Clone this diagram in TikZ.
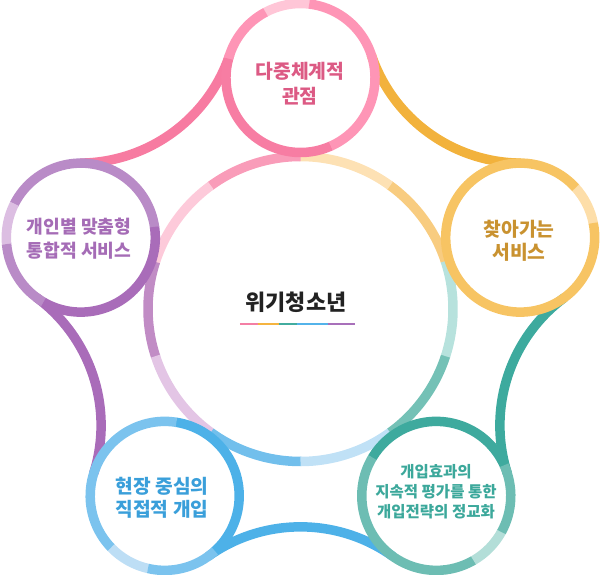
\documentclass[tikz,border=0pt]{standalone}
\usepackage{fontspec}
\newfontfamily\kr{Noto Sans CJK KR}
\definecolor{bOr}{HTML}{F8CC80}
\definecolor{bOrL}{HTML}{FDE1B4}
\definecolor{bPk}{HTML}{F99CB9}
\definecolor{bPkL}{HTML}{FDCADA}
\definecolor{bPu}{HTML}{C18CC5}
\definecolor{bPuL}{HTML}{E3C5E5}
\definecolor{bBl}{HTML}{72BFEC}
\definecolor{bBlL}{HTML}{C0E1F6}
\definecolor{bTe}{HTML}{74C1B6}
\definecolor{bTeL}{HTML}{B7E2DD}
% top circle
\definecolor{tL}{HTML}{FFC6D7}
\definecolor{tM}{HTML}{FE95B6}
\definecolor{tD}{HTML}{F77DA3}
% right circle
\definecolor{rL}{HTML}{FDDEA9}
\definecolor{rM}{HTML}{F7C463}
% bottom right
\definecolor{brD}{HTML}{3EAA9E}
\definecolor{brM}{HTML}{6DBDB3}
\definecolor{brL}{HTML}{B3DED8}
% bottom left
\definecolor{blD}{HTML}{4DB1E8}
\definecolor{blM}{HTML}{7BC3EE}
\definecolor{blL}{HTML}{BDDEF5}
% left
\definecolor{lM}{HTML}{B98BC7}
\definecolor{lL}{HTML}{DCBEE2}
\definecolor{lD}{HTML}{A96CB9}
% connectors
\definecolor{cPk}{HTML}{F77BA1}
\definecolor{cOr}{HTML}{F2B23C}
\definecolor{cTe}{HTML}{3DAA9E}
\definecolor{cBl}{HTML}{4DB1E8}
\definecolor{cPu}{HTML}{A96CB9}
% text
\definecolor{xTop}{HTML}{DC5A84}
\definecolor{xR}{HTML}{C99230}
\definecolor{xL}{HTML}{A56CB6}
\definecolor{xBL}{HTML}{3A9FDA}
\definecolor{xBR}{HTML}{3CA89B}
\definecolor{xC}{HTML}{222222}
% underline
\definecolor{uPk}{HTML}{F47FA5}
\definecolor{uOr}{HTML}{F5B440}
\definecolor{uTe}{HTML}{42AC9F}
\definecolor{uBl}{HTML}{53B3EA}
\definecolor{uPu}{HTML}{A870BA}
\newcommand\arcseg[5]{\draw[ring,#1] ([shift={(#3:#5)}]#2) arc[start angle=#3, end angle=#4, radius=#5];}
\begin{document}
\begin{tikzpicture}[x=1pt,y=1pt,
  ring/.style={line width=9.5pt, line cap=butt},
  label/.style={align=center, inner sep=0pt, font=\kr\bfseries}]
\useasboundingbox (-300.5,-266) rectangle (299.5,309);
\def\rs{74.5}
\def\rb{152.5}
\def\rf{159}
\coordinate (O) at (0,0);
\coordinate (T) at (90:231);
\coordinate (L) at (162:231);
\coordinate (BL) at (234:231);
\coordinate (BR) at (306:231);
\coordinate (R) at (18:231);
\coordinate (F1) at (126:376.84);
\coordinate (F2) at (198:376.84);
\coordinate (F3) at (270:376.84);
\coordinate (F4) at (342:376.84);
\coordinate (F5) at (54:376.84);
% big circle
\arcseg{bOr}{O}{18}{54.3}{\rb}
\arcseg{bOrL}{O}{54}{90.3}{\rb}
\arcseg{bPk}{O}{90}{126.3}{\rb}
\arcseg{bPkL}{O}{126}{162.3}{\rb}
\arcseg{bPu}{O}{162}{198.3}{\rb}
\arcseg{bPuL}{O}{198}{234.3}{\rb}
\arcseg{bBl}{O}{234}{270.3}{\rb}
\arcseg{bBlL}{O}{270}{306.3}{\rb}
\arcseg{bTe}{O}{306}{342.3}{\rb}
\arcseg{bTeL}{O}{342}{378.3}{\rb}
% connectors
\arcseg{cPk}{F1}{270.44}{341.56}{\rf}
\arcseg{cPu}{F2}{342.44}{413.56}{\rf}
\arcseg{cBl}{F3}{54.44}{125.56}{\rf}
\arcseg{cTe}{F4}{126.44}{197.56}{\rf}
\arcseg{cOr}{F5}{198.44}{269.56}{\rf}
% top circle
\arcseg{tL}{T}{83}{118.3}{\rs}
\arcseg{tM}{T}{118}{165.3}{\rs}
\arcseg{tD}{T}{165}{294.3}{\rs}
\arcseg{tM}{T}{294}{443.3}{\rs}
% right circle
\arcseg{rL}{R}{11}{42.3}{\rs}
\arcseg{rM}{R}{42}{371.3}{\rs}
% bottom right
\arcseg{brD}{BR}{24}{149.3}{\rs}
\arcseg{brM}{BR}{149}{300.3}{\rs}
\arcseg{brL}{BR}{300}{331.3}{\rs}
\arcseg{brM}{BR}{331}{384.3}{\rs}
% bottom left
\arcseg{blD}{BL}{-48}{81.3}{\rs}
\arcseg{blM}{BL}{81}{224.3}{\rs}
\arcseg{blL}{BL}{224}{257.3}{\rs}
\arcseg{blM}{BL}{257}{312.3}{\rs}
% left
\arcseg{lM}{L}{8}{153.3}{\rs}
\arcseg{lL}{L}{153}{185.3}{\rs}
\arcseg{lM}{L}{185}{240.3}{\rs}
\arcseg{lD}{L}{240}{368.3}{\rs}
% texts
\node[label, text=xTop, font=\kr\bfseries\fontsize{19.3}{25}\selectfont] (tT) at (-0.5,225) {다중체계적\\관점};
\node[label, text=xR, font=\kr\bfseries\fontsize{19.3}{23}\selectfont] (tR) at (218.5,68) {찾아가는\\서비스};
\node[label, text=xL, font=\kr\bfseries\fontsize{18.2}{24}\selectfont] (tL) at (-221.5,70) {개인별 맞춤형\\통합적 서비스};
\node[label, text=xBL, font=\kr\bfseries\fontsize{19.2}{23}\selectfont] (tBL) at (-138.5,-189) {현장 중심의\\직접적 개입};
\node[label, text=xBR, font=\kr\bfseries\fontsize{15.5}{20}\selectfont] (tBR) at (135.5,-183) {개입효과의\\지속적 평가를 통한\\개입전략의 정교화};
\node[label, text=xC, font=\kr\bfseries\fontsize{21.9}{24}\selectfont] (tC) at (-4.5,7) {위기청소년};
% underline
\coordinate (u0) at (-60.5,-15);
\coordinate (u1) at (-42.5,-15);
\coordinate (u2) at (-21.5,-15);
\coordinate (u3) at (-3.5,-15);
\coordinate (u4) at (27.5,-15);
\coordinate (u5) at (54.5,-15);
\draw[uPk, line width=2pt] (u0) -- (u1);
\draw[uOr, line width=2pt] (u1) -- (u2);
\draw[uTe, line width=2pt] (u2) -- (u3);
\draw[uBl, line width=2pt] (u3) -- (u4);
\draw[uPu, line width=2pt] (u4) -- (u5);
\end{tikzpicture}
\end{document}
